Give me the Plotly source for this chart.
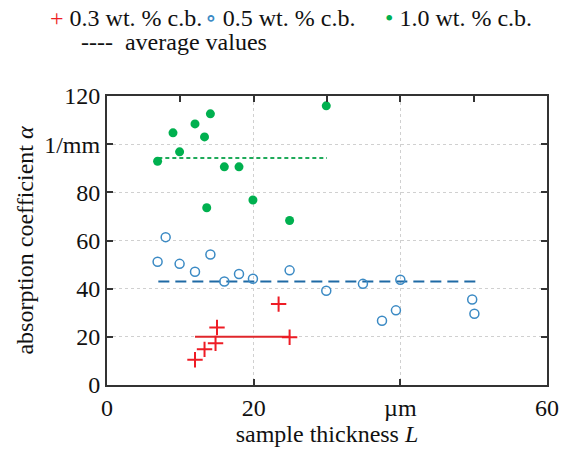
import plotly.graph_objects as go

# ---- data ----
red_x = [12.0, 13.3, 14.8, 15.0, 23.4, 24.9]
red_y = [10.5, 14.8, 17.3, 23.9, 33.6, 19.8]

blue_x = [6.9, 8.0, 9.9, 12.0, 14.1, 16.0, 18.0, 19.9, 24.9, 29.9, 34.9, 37.5, 39.4, 40.0, 49.8, 50.1]
blue_y = [51.2, 61.4, 50.3, 47.0, 54.2, 43.0, 46.1, 44.1, 47.6, 39.1, 42.0, 26.7, 31.0, 43.7, 35.5, 29.6]

green_x = [6.9, 9.0, 9.9, 12.0, 13.3, 14.1, 13.6, 16.0, 18.0, 19.9, 24.9, 29.9]
green_y = [92.9, 104.7, 96.8, 108.4, 103.0, 112.6, 73.6, 90.6, 90.6, 76.8, 68.3, 115.9]

red_avg_x = [12.0, 25.0]
red_avg_y = [20.0, 20.0]
blue_avg_x = [7.0, 50.3]
blue_avg_y = [43.0, 43.0]
green_avg_x = [7.0, 30.0]
green_avg_y = [94.3, 94.3]

x_tickvals = [0, 20, 40, 60]
x_ticktext = ["0", "20", "µm", "60"]
x_top_ticks = [10, 20, 30, 40, 50]
y_tickvals = [0, 20, 40, 60, 80, 100, 120]
y_ticktext = ["0", "20", "40", "60", "80", "1/mm", "120"]

RED = "#ee1c25"
BLUE = "#3b8ac4"
BLUE_D = "#1f6aa5"
GREEN = "#00b04f"
FONT = "Liberation Serif, Times New Roman, DejaVu Serif, serif"
AX = "#333333"
FS = 24

fig = go.Figure()
fig.add_trace(go.Scatter(x=red_avg_x, y=red_avg_y, mode="lines",
                         line=dict(color="#e0262b", width=2)))
fig.add_trace(go.Scatter(x=blue_avg_x, y=blue_avg_y, mode="lines",
                         line=dict(color=BLUE_D, width=2, dash="11px,6px")))
fig.add_trace(go.Scatter(x=green_avg_x, y=green_avg_y, mode="lines",
                         line=dict(color="#1faa5a", width=2, dash="4px,3px")))
fig.add_trace(go.Scatter(x=red_x, y=red_y, mode="markers",
                         marker=dict(symbol="cross-thin-open", size=11, color=RED,
                                     line=dict(color=RED, width=2))))
fig.add_trace(go.Scatter(x=blue_x, y=blue_y, mode="markers",
                         marker=dict(symbol="circle-open", size=9, color=BLUE,
                                     line=dict(color=BLUE, width=1.5))))
fig.add_trace(go.Scatter(x=green_x, y=green_y, mode="markers",
                         marker=dict(symbol="circle", size=9, color=GREEN)))
# invisible trace for top axis ticks
fig.add_trace(go.Scatter(x=[0, 60], y=[0, 0], mode="markers", xaxis="x2",
                         marker=dict(opacity=0), hoverinfo="skip"))

fig.update_layout(
    width=573, height=458,
    margin=dict(l=107, r=26, t=96, b=73),
    paper_bgcolor="white", plot_bgcolor="white",
    showlegend=False,
    font=dict(family=FONT, size=FS, color="#111111"),
    xaxis=dict(range=[0, 60], tickvals=x_tickvals, ticktext=x_ticktext,
               ticks="inside", ticklen=6, tickwidth=2, tickcolor=AX,
               showline=True, linecolor=AX, linewidth=2, mirror=True,
               showgrid=True, gridcolor="#d0d0d0", griddash="dot", gridwidth=1,
               zeroline=False,
               title=dict(text="sample thickness <i>L</i>", standoff=2,
                          font=dict(size=FS, family=FONT))),
    xaxis2=dict(range=[0, 60], overlaying="x", side="top", tickvals=x_top_ticks,
                ticks="inside", ticklen=6, tickwidth=2, tickcolor=AX,
                showticklabels=False, showgrid=False, zeroline=False,
                showline=False),
    yaxis=dict(range=[0, 120], tickvals=y_tickvals, ticktext=y_ticktext,
               ticks="inside", ticklen=6, tickwidth=2, tickcolor=AX,
               showline=True, linecolor=AX, linewidth=2, mirror="ticks",
               showgrid=True, gridcolor="#d0d0d0", griddash="dot", gridwidth=1,
               zeroline=False,
               title=dict(text="absorption coefficient <i>α</i>", standoff=4,
                          font=dict(size=FS, family=FONT))),
)

ann = [
    (48, 18, f'<span style="color:{RED}">+</span> 0.3 wt. % c.b.'),
    (203, 18, f'<span style="color:{BLUE}">∘</span> 0.5 wt. % c.b.'),
    (383, 18, f'<span style="color:{GREEN}">•</span> 1.0 wt. % c.b.'),
    (79, 42, '----  average values'),
]
for x, y, t in ann:
    fig.add_annotation(x=x, y=y, xref="paper", yref="paper", text=t,
                       showarrow=False, xanchor="left", yanchor="middle",
                       font=dict(family=FONT, size=FS, color="#111111"))
# convert pixel positions to paper coords
for a in fig.layout.annotations:
    px, py = a.x, a.y
    a.x = (px - 107) / (573 - 107 - 26)
    a.y = 1 + (96 - py) / (458 - 96 - 73)

fig.write_html("out.html")
